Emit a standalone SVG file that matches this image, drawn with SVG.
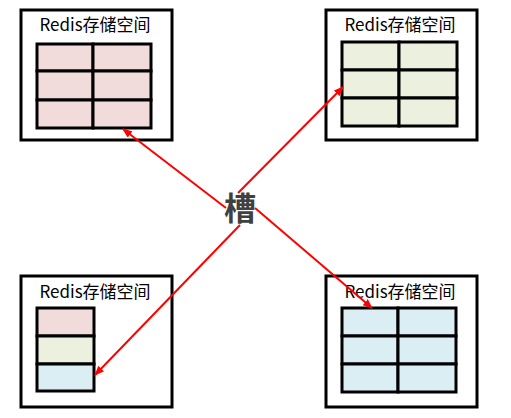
<svg xmlns="http://www.w3.org/2000/svg" width="511" height="418" viewBox="0 0 511 418">
<style>
.box{fill:#fff;stroke:#000;stroke-width:3}
.cell{stroke:#000;stroke-width:3}
.pink{fill:#F2DCDB}
.green{fill:#EBF1DE}
.blue{fill:#DBEEF4}
.lbl{font-family:"Noto Sans CJK SC","Noto Sans",sans-serif;font-size:17px;fill:#000;text-anchor:middle}
.slot{font-family:"Noto Sans CJK SC",sans-serif;font-size:32px;font-weight:bold;fill:#404040;text-anchor:middle}
.arr{stroke:#FF0000;stroke-width:2;fill:none;marker-end:url(#ah)}
</style>
<defs>
<marker id="ah" markerWidth="10" markerHeight="8" refX="9" refY="4" orient="auto" markerUnits="userSpaceOnUse">
<path d="M0,0 L10,4 L0,8 Z" fill="#FF0000"/>
</marker>
</defs>
<rect width="511" height="418" fill="#fff"/>
<g id="storage-top-left">
<rect class="box" x="21" y="10" width="151" height="130"/>
<text class="lbl" x="95" y="31">Redis存储空间</text>
<g class="pink">
<rect class="cell" x="37" y="44" width="56" height="27"/>
<rect class="cell" x="93" y="44" width="58" height="27"/>
<rect class="cell" x="37" y="71" width="56" height="29"/>
<rect class="cell" x="93" y="71" width="58" height="29"/>
<rect class="cell" x="37" y="100" width="56" height="28"/>
<rect class="cell" x="93" y="100" width="58" height="28"/>
</g>
</g>
<g id="storage-top-right">
<rect class="box" x="326" y="10" width="151" height="130"/>
<text class="lbl" x="400" y="31">Redis存储空间</text>
<g class="green">
<rect class="cell" x="342" y="42" width="57" height="28"/>
<rect class="cell" x="399" y="42" width="58" height="28"/>
<rect class="cell" x="342" y="70" width="57" height="28"/>
<rect class="cell" x="399" y="70" width="58" height="28"/>
<rect class="cell" x="342" y="98" width="57" height="28"/>
<rect class="cell" x="399" y="98" width="58" height="28"/>
</g>
</g>
<g id="storage-bottom-left">
<rect class="box" x="21" y="276" width="151" height="131"/>
<text class="lbl" x="95" y="298">Redis存储空间</text>
<rect class="cell pink" x="37" y="308" width="57" height="28"/>
<rect class="cell green" x="37" y="336" width="57" height="28"/>
<rect class="cell blue" x="37" y="364" width="57" height="27"/>
</g>
<g id="storage-bottom-right">
<rect class="box" x="326" y="276" width="151" height="131"/>
<text class="lbl" x="400" y="298">Redis存储空间</text>
<g class="blue">
<rect class="cell" x="342" y="308" width="56" height="28"/>
<rect class="cell" x="398" y="308" width="58" height="28"/>
<rect class="cell" x="342" y="336" width="56" height="28"/>
<rect class="cell" x="398" y="336" width="58" height="28"/>
<rect class="cell" x="342" y="364" width="56" height="28"/>
<rect class="cell" x="398" y="364" width="58" height="28"/>
</g>
</g>
<g id="connectors">
<line class="arr" x1="226" y1="208" x2="123" y2="129"/>
<line class="arr" x1="238" y1="193" x2="343" y2="87"/>
<line class="arr" x1="255" y1="208" x2="372" y2="308"/>
<line class="arr" x1="240" y1="225" x2="95" y2="375"/>
</g>
<g id="slot">
<text class="slot" x="240" y="220">槽</text>
</g>
</svg>
